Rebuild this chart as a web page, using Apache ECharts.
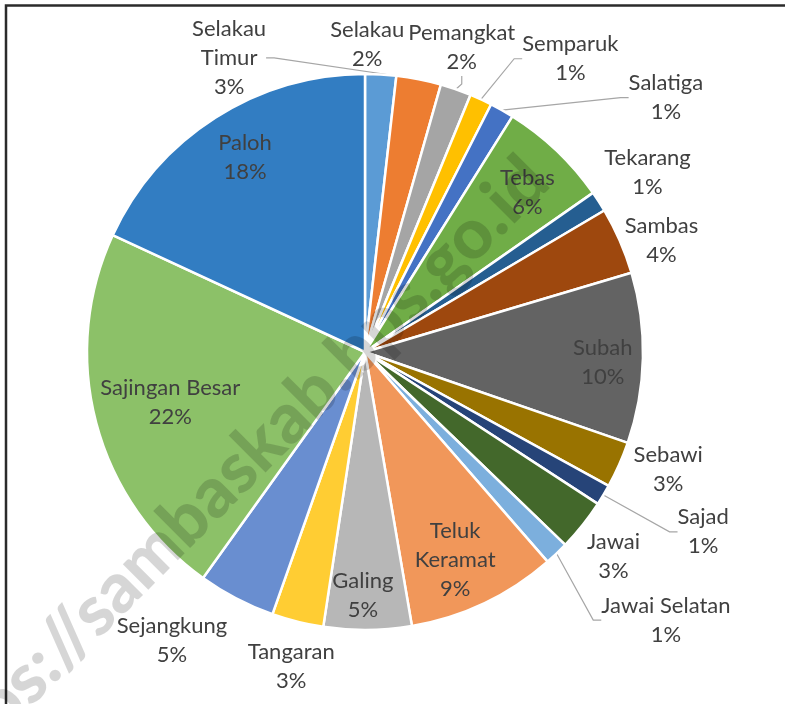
<!DOCTYPE html>
<html>
<head>
<meta charset="utf-8">
<script src="https://cdn.jsdelivr.net/npm/echarts@6/dist/echarts.min.js"></script>
<style>
  html, body { margin: 0; padding: 0; background: #fff; }
  #main { width: 785px; height: 704px; }
</style>
</head>
<body>
<div id="main"></div>
<script>
// kecamatan, clockwise from 12 o'clock
var districts = ['Selakau', 'Selakau Timur', 'Pemangkat', 'Semparuk', 'Salatiga', 'Tebas', 'Tekarang',
  'Sambas', 'Subah', 'Sebawi', 'Sajad', 'Jawai', 'Jawai Selatan', 'Teluk Keramat', 'Galing',
  'Tangaran', 'Sejangkung', 'Sajingan Besar', 'Paloh']
// share (%)
var shares = [1.8, 2.6, 1.8, 1.3, 1.4, 6.4, 1.2, 3.9, 9.9, 2.7, 1.2, 3.0, 1.4, 8.7, 5.1, 3.0, 4.5, 22.0, 18.1]

// office 2013 palette
var colors = ['#5B9BD5', '#ED7D31', '#A5A5A5', '#FFC000', '#4472C4', '#70AD47', '#255E91',
  '#9E480E', '#636363', '#997300', '#264478', '#43682B', '#7CAFDD', '#F1975A', '#B7B7B7',
  '#FFCD33', '#698ED0', '#8CC168', '#327DC2']

// label spot as [angle from top (deg), distance from centre (px)], and whether a leader line is drawn
var labelSpot = [[0.4, 308], [335.2, 324], [17.6, 320], [35, 358], [49.8, 394], [45.4, 228], [57.5, 335],
  [69.3, 317], [92.4, 238], [111.1, 325], [118, 383], [129.5, 322], [131.7, 403], [156.6, 227], [180.5, 243],
  [193.2, 323], [213.8, 347], [255.6, 201], [328.4, 229]]
var leader = [false, true, true, true, true, false, false, false, false, false, true, false, true,
  false, false, false, false, false, false]
var insideLabel = [5, 8, 13, 14, 17, 18]

var CX = 365
var CY = 352
var R = 278

var pieData = districts.map(function (name, i) {
  return {
    name: name,
    value: shares[i],
    itemStyle: { color: colors[i] },
    label: { position: insideLabel.indexOf(i) >= 0 ? 'inside' : 'outside' },
    labelLine: { show: leader[i] }
  }
})

var myChart = echarts.init(document.getElementById('main'))
var option = {
  animation: false,
  backgroundColor: '#fff',
  graphic: [
    {
      type: 'rect',
      z: 0,
      shape: { x: 6, y: 5.5, width: 800, height: 720 },
      style: { fill: 'none', stroke: '#2b2b2b', lineWidth: 2.5 }
    },
    {
      // watermark
      type: 'text',
      z: 100,
      x: 230,
      y: 476,
      rotation: 45 * Math.PI / 180,
      style: {
        text: 'https://sambaskab.bps.go.id',
        fontFamily: 'Lato',
        fontWeight: 900,
        fontSize: 70,
        fill: 'rgba(0,0,0,0.16)',
        textAlign: 'center',
        textVerticalAlign: 'middle'
      }
    }
  ],
  series: [
    {
      type: 'pie',
      center: [CX, CY],
      radius: R,
      startAngle: 90,
      clockwise: true,
      avoidLabelOverlap: false,
      silent: true,
      itemStyle: { borderColor: '#fff', borderWidth: 2.5 },
      label: {
        show: true,
        color: '#404040',
        fontFamily: 'Lato',
        fontSize: 22,
        lineHeight: 29,
        formatter: function (p) {
          return p.name.replace('Selakau Timur', 'Selakau\nTimur').replace('Teluk Keramat', 'Teluk\nKeramat') +
            '\n' + Math.round(p.percent) + '%'
        }
      },
      labelLine: {
        length: 10,
        length2: 8,
        lineStyle: { color: '#a6a6a6', width: 1.2 }
      },
      labelLayout: function (p) {
        var spot = labelSpot[p.dataIndex]
        var a = spot[0] * Math.PI / 180
        return {
          x: CX + spot[1] * Math.sin(a),
          y: CY - spot[1] * Math.cos(a),
          align: 'center',
          verticalAlign: 'middle'
        }
      },
      data: pieData
    }
  ]
}
myChart.setOption(option)
</script>
</body>
</html>
